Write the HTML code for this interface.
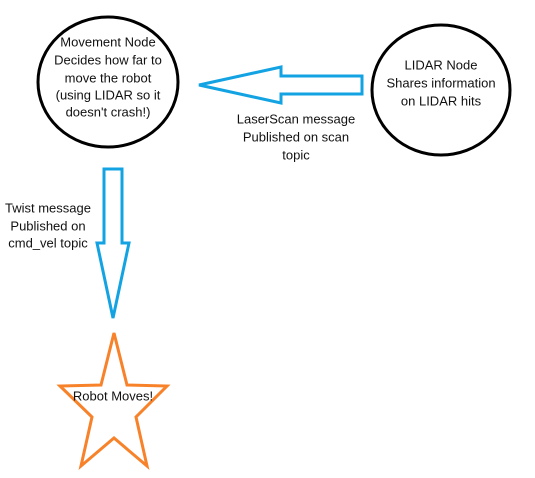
<!DOCTYPE html>
<html><head><style>
html,body{margin:0;padding:0;background:#fff;width:535px;height:478px;overflow:hidden}
svg text{font-family:"Liberation Sans",sans-serif;font-size:13px;fill:#111;text-anchor:middle;dominant-baseline:central}
</style></head><body>
<svg width="535" height="478" viewBox="0 0 535 478" xmlns="http://www.w3.org/2000/svg">
<ellipse cx="108" cy="82" rx="70" ry="65" fill="none" stroke="#000" stroke-width="3"/>
<ellipse cx="441" cy="90" rx="69" ry="65" fill="none" stroke="#000" stroke-width="3"/>
<polygon points="199,85 281,67 281,76 362,76 362,94 281,94 281,103" fill="none" stroke="#13a3e3" stroke-width="3"/>
<polygon points="104,169 122,169 122,243 129,243 113,318 97,243 104,243" fill="none" stroke="#13a3e3" stroke-width="3"/>
<polygon points="114,333 127,385 167,386 136,417 147,466 114,438 81,466 92,417 60,386 101,385" fill="none" stroke="#f7822a" stroke-width="3" stroke-linejoin="miter"/>
<text x="108" y="42">Movement Node</text>
<text x="108" y="60">Decides how far to</text>
<text x="108" y="78">move the robot</text>
<text x="108" y="95">(using LIDAR so it</text>
<text x="108" y="112">doesn't crash!)</text>
<text x="441" y="65">LIDAR Node</text>
<text x="441" y="83">Shares information</text>
<text x="441" y="101">on LIDAR hits</text>
<text x="296" y="119">LaserScan message</text>
<text x="296" y="137">Published on scan</text>
<text x="296" y="155">topic</text>
<text x="48" y="208">Twist message</text>
<text x="48" y="226">Published on</text>
<text x="48" y="243">cmd_vel topic</text>
<text x="113" y="396">Robot Moves!</text>
</svg>
</body></html>
